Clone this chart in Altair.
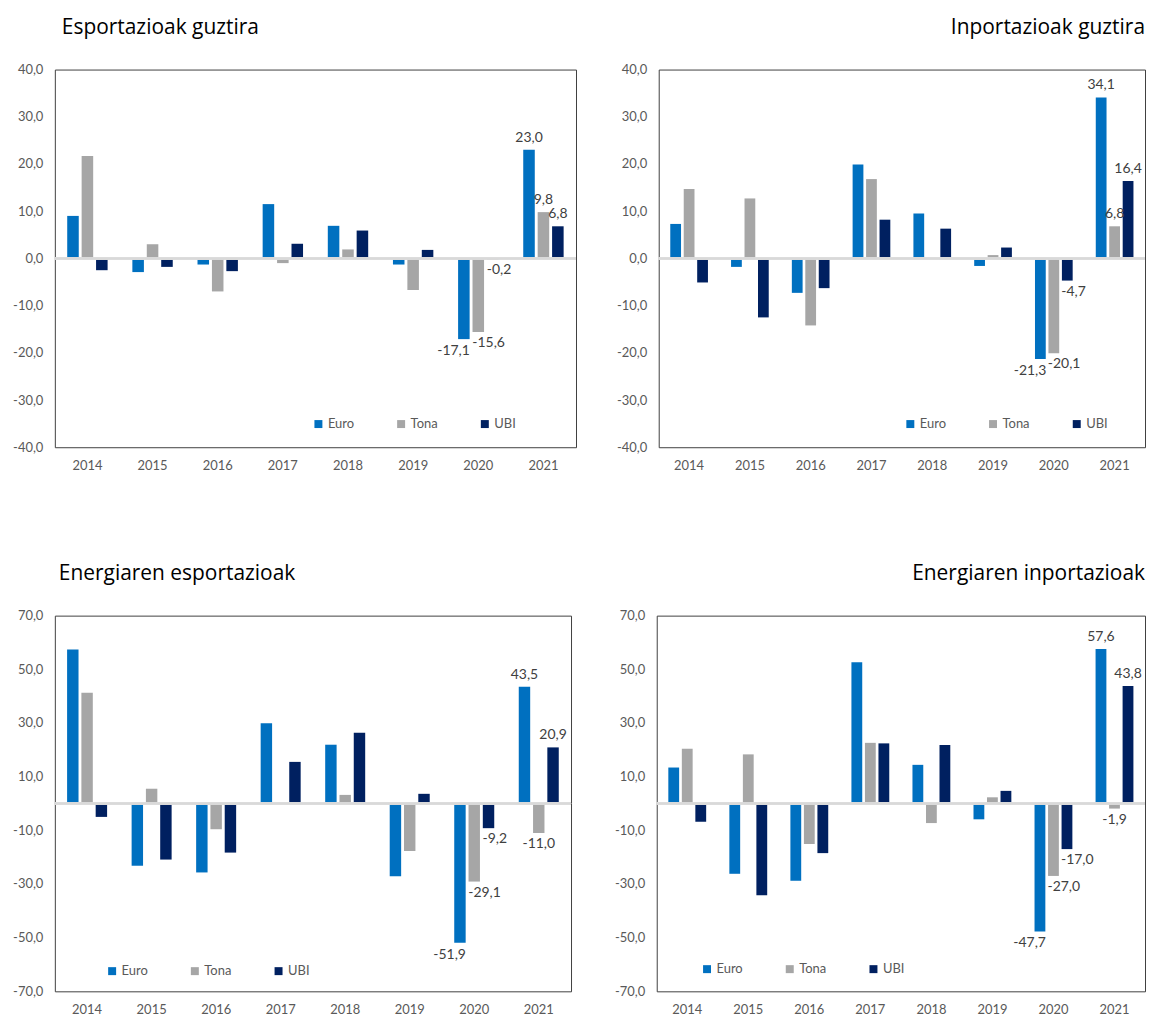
import altair as alt
import pandas as pd

years = ["2014", "2015", "2016", "2017", "2018", "2019", "2020", "2021"]
series = ["Euro", "Tona", "UBI"]
colors = ["#0070C0", "#A6A6A6", "#002060"]

# Esportazioak guztira
exp_total_euro = [9.0, -2.9, -1.3, 11.5, 6.9, -1.3, -17.1, 23.0]
exp_total_tona = [21.7, 3.0, -7.0, -1.0, 1.9, -6.7, -15.6, 9.8]
exp_total_ubi = [-2.5, -1.8, -2.7, 3.1, 5.9, 1.8, -0.2, 6.8]

# Inportazioak guztira
imp_total_euro = [7.3, -1.8, -7.3, 19.9, 9.5, -1.6, -21.3, 34.1]
imp_total_tona = [14.7, 12.7, -14.2, 16.8, -0.1, 0.7, -20.1, 6.8]
imp_total_ubi = [-5.1, -12.5, -6.3, 8.2, 6.3, 2.3, -4.7, 16.4]

# Energiaren esportazioak
en_exp_euro = [57.4, -23.2, -25.7, 29.9, 21.9, -27.1, -51.9, 43.5]
en_exp_tona = [41.3, 5.5, -9.6, 0.2, 3.2, -17.7, -29.1, -11.0]
en_exp_ubi = [-5.0, -20.9, -18.3, 15.5, 26.4, 3.6, -9.2, 20.9]

# Energiaren inportazioak
en_imp_euro = [13.4, -26.2, -28.8, 52.6, 14.4, -5.9, -47.7, 57.6]
en_imp_tona = [20.4, 18.3, -15.1, 22.6, -7.3, 2.3, -27.0, -1.9]
en_imp_ubi = [-6.8, -34.2, -18.5, 22.4, 21.8, 4.7, -17.0, 43.8]

ticks_small = [-40, -30, -20, -10, 0, 10, 20, 30, 40]
ticks_large = [-70, -50, -30, -10, 10, 30, 50, 70]

FONT = "Lato"
TFONT = "Open Sans"
LBL = "#595959"
COMMA = "replace(replace(format(datum.value, '.1f'), '.', ','), '\u2212', '-')"


def panel(title, euro, tona, ubi, domain, ticks, width, height, y_extent,
          anchor, title_dx, legend_x, legend_y):
    rows = []
    for name, vals in zip(series, [euro, tona, ubi]):
        for yr, v in zip(years, vals):
            rows.append({"year": yr, "series": name, "value": v})
    df = pd.DataFrame(rows)
    base = alt.Chart(df)

    x = alt.X("year:N", sort=years,
              scale=alt.Scale(paddingInner=0.38, paddingOuter=0.19),
              axis=alt.Axis(title=None, labelAngle=0, ticks=False, domain=False,
                            labelPadding=12, labelColor=LBL, labelFontSize=13,
                            labelFont=FONT))
    y = alt.Y("value:Q",
              scale=alt.Scale(domain=domain, nice=False, zero=False),
              axis=alt.Axis(title=None, values=ticks, grid=False, ticks=False,
                            domain=False, labelPadding=12, minExtent=y_extent,
                            maxExtent=y_extent, labelExpr=COMMA,
                            labelColor=LBL, labelFontSize=13, labelFont=FONT))
    xo = alt.XOffset("series:N", sort=series, scale=alt.Scale(paddingInner=0.2))

    bars = base.mark_bar().encode(
        x=x, xOffset=xo, y=y,
        color=alt.Color("series:N",
                        scale=alt.Scale(domain=series, range=colors),
                        legend=alt.Legend(title=None, orient="none",
                                          legendX=legend_x, legendY=legend_y,
                                          direction="horizontal",
                                          symbolType="square", symbolSize=64,
                                          symbolStrokeWidth=0,
                                          labelFontSize=13, labelColor=LBL,
                                          labelFont=FONT, columnPadding=40,
                                          padding=0, labelOffset=3)),
    )
    zero = base.mark_rule(color="#D9D9D9", strokeWidth=1.5).encode(y=alt.datum(0))

    lab = base.transform_calculate(lbl=COMMA)
    style = dict(fontSize=14, font=FONT, color="#404040")
    enc = dict(x=x, xOffset=xo, y=y, text="lbl:N")
    # 2020: Euro label right-aligned to its bar, Tona / UBI left-aligned
    t20_euro = lab.transform_filter(
        "datum.year == '2020' && datum.series == 'Euro'"
    ).mark_text(baseline="top", align="right", dx=6, dy=5, **style).encode(**enc)
    t20_rest = lab.transform_filter(
        "datum.year == '2020' && datum.series != 'Euro'"
    ).mark_text(baseline="top", align="left", dx=-6, dy=4, **style).encode(**enc)
    # 2021: centred labels
    t21_pos = lab.transform_filter(
        "datum.year == '2021' && datum.value >= 0"
    ).mark_text(baseline="bottom", dy=-5, **style).encode(**enc)
    t21_neg = lab.transform_filter(
        "datum.year == '2021' && datum.value < 0"
    ).mark_text(baseline="top", dy=4, **style).encode(**enc)

    return alt.layer(bars, zero, t20_euro, t20_rest, t21_pos, t21_neg).properties(
        width=width, height=height,
        title=alt.TitleParams(title, anchor=anchor, frame="group", dx=title_dx,
                              fontSize=21, font=TFONT, fontWeight="normal",
                              color="black", offset=26),
    )


p1 = panel("Esportazioak guztira", exp_total_euro, exp_total_tona, exp_total_ubi,
           [-40, 40], ticks_small, 523, 379, 46, "start", 7, 258, 349)
p2 = panel("Inportazioak guztira", imp_total_euro, imp_total_tona, imp_total_ubi,
           [-40, 40], ticks_small, 488, 379, 43, "end", 0, 246, 349)
p3 = panel("Energiaren esportazioak", en_exp_euro, en_exp_tona, en_exp_ubi,
           [-70, 70], ticks_large, 518, 377, 46, "start", 4, 51, 350)
p4 = panel("Energiaren inportazioak", en_imp_euro, en_imp_tona, en_imp_ubi,
           [-70, 70], ticks_large, 490, 377, 43, "end", 0, 44, 348)

res = dict(x="independent", y="independent", color="independent",
           xOffset="independent")
row1 = alt.hconcat(p1, p2, spacing=37).resolve_scale(**res).resolve_legend(color="independent")
row2 = alt.hconcat(p3, p4, spacing=40).resolve_scale(**res).resolve_legend(color="independent")

chart = alt.vconcat(
    row1, row2, spacing=89,
    padding={"left": 0, "top": 6, "right": 0, "bottom": 0},
    background="white",
).resolve_scale(**res).resolve_legend(color="independent").configure_view(
    stroke="#404040", strokeWidth=1
)

chart.save("out.html", embed_options={"renderer": "svg", "actions": False})
